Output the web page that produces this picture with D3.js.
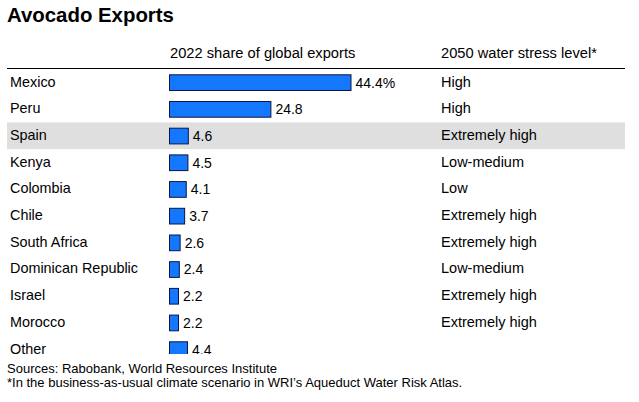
<!DOCTYPE html>
<html>
<head>
<meta charset="utf-8">
<script src="https://cdn.jsdelivr.net/npm/d3@7"></script>
<style>
  html, body { margin: 0; padding: 0; background: #fff; }
  svg { display: block; font-family: "Liberation Sans", Arial, sans-serif; }
</style>
</head>
<body>
<svg id="chart" width="639" height="402"></svg>
<script>
const title = "Avocado Exports";
const colHeaders = ["2022 share of global exports", "2050 water stress level*"];
const countries = ["Mexico", "Peru", "Spain", "Kenya", "Colombia", "Chile", "South Africa", "Dominican Republic", "Israel", "Morocco", "Other"];
const shares = [44.4, 24.8, 4.6, 4.5, 4.1, 3.7, 2.6, 2.4, 2.2, 2.2, 4.4];
const shareLabels = ["44.4%", "24.8", "4.6", "4.5", "4.1", "3.7", "2.6", "2.4", "2.2", "2.2", "4.4"];
const stress = ["High", "High", "Extremely high", "Low-medium", "Low", "Extremely high", "Extremely high", "Low-medium", "Extremely high", "Extremely high", ""];
const highlighted = ["Spain"];
const footnotes = ["Sources: Rabobank, World Resources Institute", "*In the business-as-usual climate scenario in WRI\u2019s Aqueduct Water Risk Atlas."];

const svg = d3.select("#chart");

svg.append("text").attr("x", 7).attr("y", 22)
  .attr("font-size", 20.4).attr("font-weight", "bold").attr("fill", "#000")
  .text(title);

const x = d3.scaleLinear().domain([0, 44.4]).range([169.5, 351]);
const y = d3.scaleBand().domain(countries).range([69, 69 + 26.7 * countries.length]);

// header
svg.append("text").attr("x", 170).attr("y", 58).attr("font-size", 14.7).attr("fill", "#000").text(colHeaders[0]);
svg.append("text").attr("x", 441).attr("y", 58).attr("font-size", 14.7).attr("fill", "#000").text(colHeaders[1]);
svg.append("line").attr("x1", 7).attr("x2", 625).attr("y1", 68.5).attr("y2", 68.5)
  .attr("stroke", "#000").attr("stroke-width", 1);

svg.append("defs").append("clipPath").attr("id", "clip")
  .append("rect").attr("x", 0).attr("y", 69).attr("width", 639).attr("height", 354 - 69);

const g = svg.append("g").attr("clip-path", "url(#clip)");

const rows = countries.map((c, i) => ({ c, v: shares[i], lab: shareLabels[i], s: stress[i] }));

g.selectAll("rect.hl").data(rows.filter(d => highlighted.includes(d.c))).join("rect")
  .attr("class", "hl")
  .attr("x", 7).attr("width", 625 - 7)
  .attr("y", d => y(d.c)).attr("height", y.bandwidth())
  .attr("fill", "#dfdfdf");

g.selectAll("text.country").data(rows).join("text")
  .attr("class", "country")
  .attr("x", 10).attr("y", d => y(d.c) + 17.5)
  .attr("font-size", 14.4).attr("fill", "#000")
  .text(d => d.c);

g.selectAll("rect.bar").data(rows).join("rect")
  .attr("class", "bar")
  .attr("x", x(0)).attr("y", d => y(d.c) + 5.8)
  .attr("width", d => x(d.v) - x(0)).attr("height", 15.7)
  .attr("fill", "#1478ff").attr("stroke", "#0a1640").attr("stroke-width", 1);

g.selectAll("text.val").data(rows).join("text")
  .attr("class", "val")
  .attr("x", d => x(d.v) + 4.5).attr("y", d => y(d.c) + 18.5)
  .attr("font-size", 14).attr("fill", "#000")
  .text(d => d.lab);

g.selectAll("text.stress").data(rows).join("text")
  .attr("class", "stress")
  .attr("x", 441).attr("y", d => y(d.c) + 17.5)
  .attr("font-size", 14.5).attr("fill", "#000")
  .text(d => d.s);

svg.selectAll("text.foot").data(footnotes).join("text")
  .attr("class", "foot")
  .attr("x", 7).attr("y", (d, i) => 373 + i * 14)
  .attr("font-size", 13).attr("fill", "#000")
  .text(d => d);
</script>
</body>
</html>
